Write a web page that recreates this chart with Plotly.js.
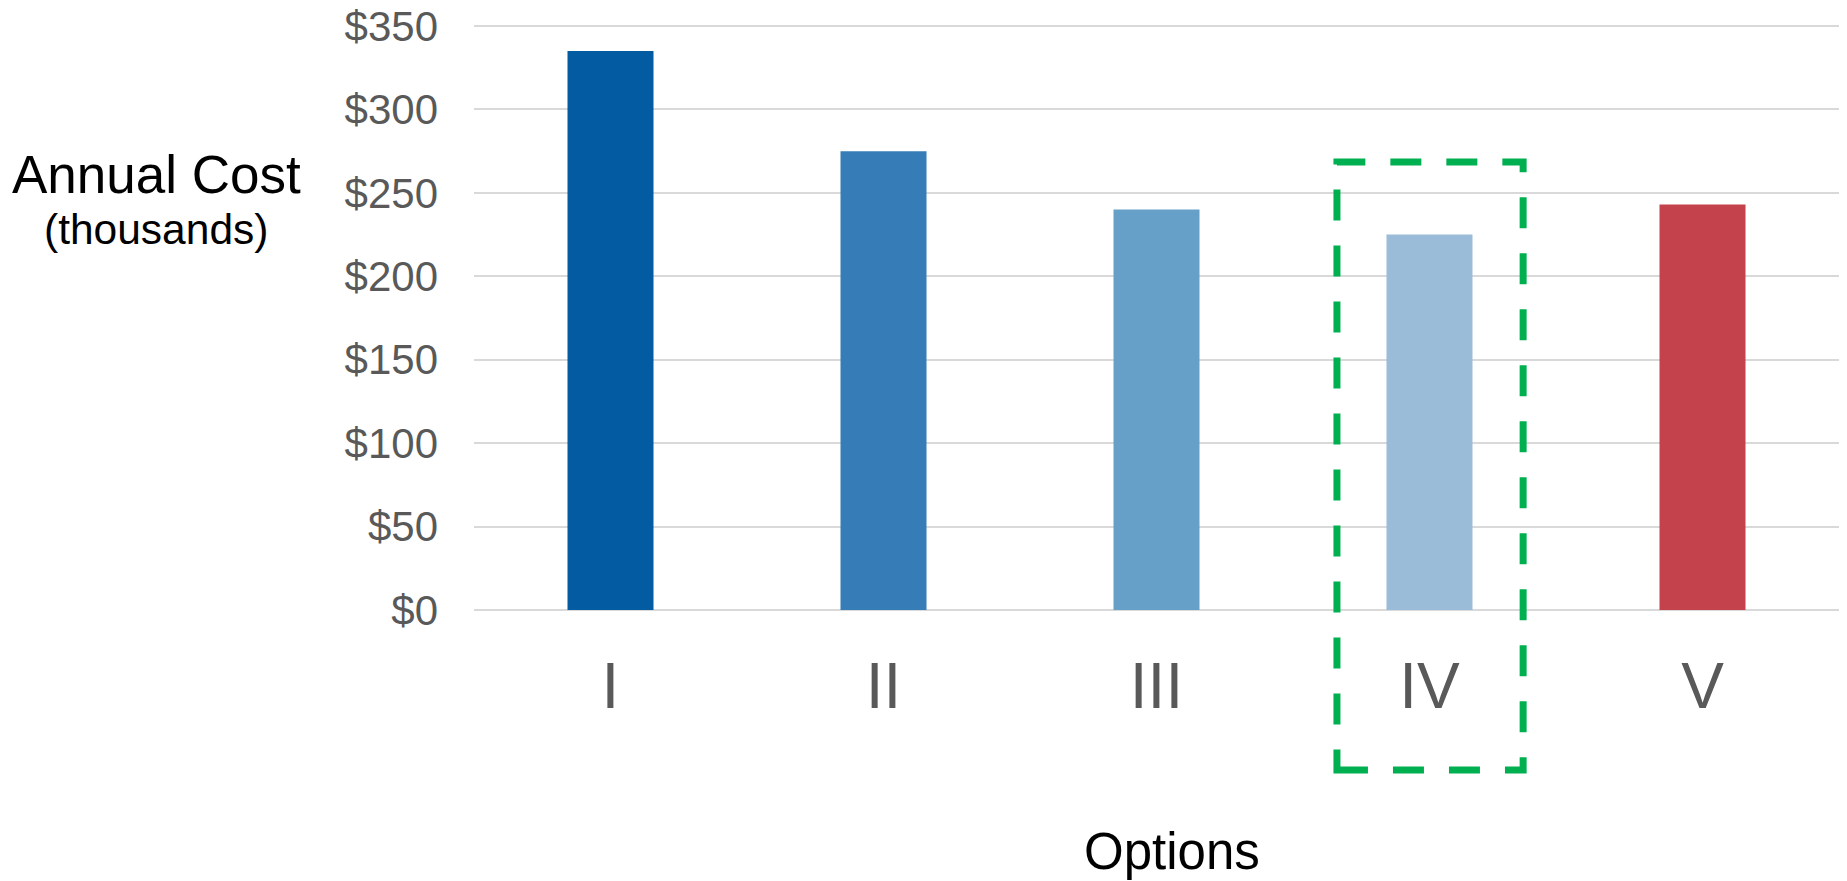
<!DOCTYPE html>
<html>
<head>
<meta charset="utf-8">
<script src="https://cdn.plot.ly/plotly-3.0.1.min.js"></script>
<style>
html, body { margin: 0; padding: 0; background: #ffffff; }
#chart { width: 1847px; height: 881px; }
</style>
</head>
<body>
<div id="chart"></div>
<script>
const categories = ["I", "II", "III", "IV", "V"];
const annualCost = [335, 275, 240, 225, 243];
const barColors = ["#035BA1", "#367CB6", "#66A0C8", "#9BBCD9", "#C4424B"];
const yTickValues = [0, 50, 100, 150, 200, 250, 300, 350];
const yTickLabels = ["$0", "$50", "$100", "$150", "$200", "$250", "$300", "$350"];
const highlightCategory = "IV";

const fontFamily = "Liberation Sans, Arial, sans-serif";
const hiIndex = categories.indexOf(highlightCategory);

const trace = {
  type: "bar",
  x: categories,
  y: annualCost,
  marker: { color: barColors, line: { width: 0 } },
  hoverinfo: "x+y"
};

const layout = {
  width: 1847,
  height: 881,
  margin: { l: 474, r: 8, t: 21, b: 266, pad: 0 },
  paper_bgcolor: "#ffffff",
  plot_bgcolor: "#ffffff",
  showlegend: false,
  bargap: 0.685,
  font: { family: fontFamily, color: "#595959" },
  xaxis: {
    type: "category",
    showgrid: false,
    zeroline: false,
    showline: false,
    ticks: "",
    tickfont: { size: 64, color: "#595959", family: fontFamily },
    ticklabelstandoff: 28
  },
  yaxis: {
    range: [-3, 353],
    tickvals: yTickValues,
    ticktext: yTickLabels,
    showgrid: true,
    gridcolor: "#D9D9D9",
    gridwidth: 2,
    zeroline: false,
    showline: false,
    ticks: "",
    tickfont: { size: 42, color: "#595959", family: fontFamily },
    ticklabelstandoff: 35
  },
  shapes: [{
    type: "rect",
    xref: "x",
    yref: "paper",
    x0: hiIndex - 0.339,
    x1: hiIndex + 0.343,
    y0: -0.261,
    y1: 0.7626,
    line: { color: "#00B050", width: 7, dash: "31px,25px" },
    fillcolor: "rgba(0,0,0,0)",
    layer: "above"
  }],
  annotations: [
    {
      text: "Annual Cost",
      xref: "paper", yref: "paper",
      x: -0.2325, y: 0.742,
      xanchor: "center", yanchor: "middle",
      showarrow: false,
      font: { size: 53, color: "#000000", family: fontFamily }
    },
    {
      text: "(thousands)",
      xref: "paper", yref: "paper",
      x: -0.233, y: 0.649,
      xanchor: "center", yanchor: "middle",
      showarrow: false,
      font: { size: 42.5, color: "#000000", family: fontFamily }
    },
    {
      text: "Options",
      xref: "paper", yref: "paper",
      x: 0.511, y: -0.398,
      xanchor: "center", yanchor: "middle",
      showarrow: false,
      font: { size: 51, color: "#000000", family: fontFamily }
    }
  ]
};

Plotly.newPlot("chart", [trace], layout, { displayModeBar: false, staticPlot: true });
</script>
</body>
</html>
